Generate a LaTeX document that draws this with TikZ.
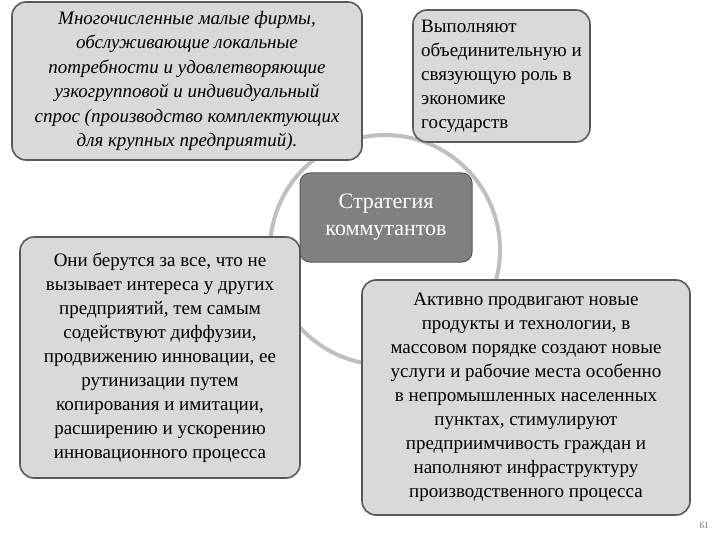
\documentclass[tikz,border=0pt]{standalone}
\usepackage{fontspec}
\setmainfont{Liberation Serif}
\begin{document}
\begin{tikzpicture}[x=1pt,y=-1pt,
  box/.style={draw=black!65,line width=1.6pt,fill=black!15,rounded corners=14pt,inner sep=4pt,font=\fontsize{19}{24}\selectfont},
  mid/.style={draw=black!65,line width=1pt,fill=black!50,rounded corners=10pt,text=white,align=center,font=\fontsize{22}{27}\selectfont}]
\useasboundingbox (0,0) rectangle (720,540);
\node[circle,draw=black!25,line width=4pt,fill=white,minimum size=230pt] (c) at (385,250) {};
\node[box,minimum width=350pt,minimum height=158pt,align=center,font=\fontsize{19}{24.5}\selectfont\itshape] (tl) at (187,81) {Многочисленные малые фирмы,\\обслуживающие локальные\\потребности и удовлетворяющие\\узкогрупповой и индивидуальный\\спрос (производство комплектующих\\для крупных предприятий).};
\node[box,minimum width=177pt,minimum height=132pt,align=left] (tr) at (501.5,76) {Выполняют\\объединительную и\\связующую роль в\\экономике\\государств};
\node[mid,minimum width=172pt,minimum height=89pt] (m) at (386,217.5) {Стратегия\\коммутантов};
\node[box,minimum width=280pt,minimum height=241pt,align=center] (l) at (160,357.5) {Они берутся за все, что не\\вызывает интереса у других\\предприятий, тем самым\\содействуют диффузии,\\продвижению инновации, ее\\рутинизации путем\\копирования и имитации,\\расширению и ускорению\\инновационного процесса};
\node[box,minimum width=328pt,minimum height=235pt,align=center] (r) at (526,397.5) {Активно продвигают новые\\продукты и технологии, в\\массовом порядке создают новые\\услуги и рабочие места особенно\\в непромышленных населенных\\пунктах, стимулируют\\предприимчивость граждан и\\наполняют инфраструктуру\\производственного процесса};
\node[text=black!60,font=\fontsize{9}{10}\selectfont] (p) at (704,526) {61};
\end{tikzpicture}
\end{document}
